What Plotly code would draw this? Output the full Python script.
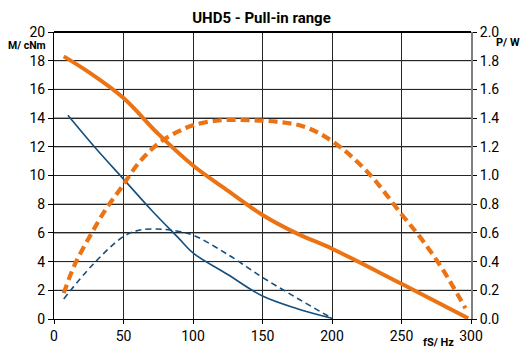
import plotly.graph_objects as go

# Drehmoment M (cNm) und Leistung P (W) über Schrittfrequenz fS (Hz)
f_m_orange = [7, 25, 50, 75, 100, 125, 150, 175, 200, 250, 298]
m_orange = [18.3, 17.2, 15.4, 12.9, 10.7, 8.95, 7.25, 5.95, 4.9, 2.45, 0.05]

f_p_orange = [7, 15, 26, 37, 48, 62, 76, 88, 100, 120, 140, 160, 180, 200, 225, 250, 265, 280, 296]
p_orange = [0.18, 0.38, 0.58, 0.76, 0.91, 1.10, 1.23, 1.30, 1.35, 1.385, 1.385, 1.375, 1.34,
            1.24, 1.03, 0.73, 0.55, 0.34, 0.075]

f_m_blue = [10, 30, 50, 70, 90, 100, 125, 150, 175, 200]
m_blue = [14.2, 11.9, 9.75, 7.6, 5.6, 4.6, 3.1, 1.6, 0.72, 0.05]

f_p_blue = [7, 28, 50, 62, 79, 90, 100, 125, 150, 175, 200]
p_blue = [0.14, 0.38, 0.575, 0.62, 0.625, 0.61, 0.585, 0.45, 0.29, 0.145, 0.005]

m_ticks = list(range(0, 21, 2))

ORANGE = "#EC7314"
BLUE = "#144F7E"
FONT = "Roboto"
GRID = "#262626"

fig = go.Figure()
fig.add_trace(go.Scatter(x=f_m_orange, y=m_orange, mode="lines",
                         line=dict(color=ORANGE, width=4, shape="spline")))
fig.add_trace(go.Scatter(x=f_p_orange, y=p_orange, mode="lines", yaxis="y2",
                         line=dict(color=ORANGE, width=4.2, shape="spline", dash="9px,5px")))
fig.add_trace(go.Scatter(x=f_m_blue, y=m_blue, mode="lines",
                         line=dict(color=BLUE, width=1.6, shape="spline")))
fig.add_trace(go.Scatter(x=f_p_blue, y=p_blue, mode="lines", yaxis="y2",
                         line=dict(color=BLUE, width=1.6, shape="spline", dash="6px,4px")))

fig.update_layout(
    width=523, height=356,
    margin=dict(l=54, r=52, t=32, b=33),
    paper_bgcolor="white", plot_bgcolor="white",
    showlegend=False,
    font=dict(family=FONT, size=14, color="black"),
    title=dict(text="<b>UHD5 - Pull-in range</b>", x=0.5, xanchor="center",
               y=0.949, yanchor="middle", font=dict(size=15, family=FONT)),
    xaxis=dict(range=[0, 300], dtick=50, showgrid=True, gridcolor=GRID, gridwidth=1,
               zeroline=False, showline=True, linecolor="black", linewidth=1,
               ticks="outside", ticklen=4, tickcolor="black"),
    yaxis=dict(range=[0, 20], tickvals=m_ticks, showgrid=True, gridcolor=GRID, gridwidth=1,
               zeroline=False, showline=True, linecolor="black", linewidth=1,
               ticks="outside", ticklen=5, tickcolor="black"),
    yaxis2=dict(range=[0, 2], dtick=0.2, tickformat=".1f", overlaying="y", side="right",
                showgrid=False, zeroline=False, showline=True, linecolor="#808080", linewidth=2,
                ticks="outside", ticklen=4, tickcolor="black"),
)

# waagerechte Gitterlinien (werden sonst von der zweiten Achse verdeckt)
for v in m_ticks[1:-1]:
    fig.add_hline(y=v, line=dict(color=GRID, width=1), layer="below")
# obere Rahmenlinie
fig.add_shape(type="line", xref="paper", yref="paper", x0=0, x1=1, y0=1, y1=1,
              line=dict(color="black", width=2), layer="above")

fig.add_annotation(text="<b>M/ cNm</b>", xref="paper", yref="paper", x=-0.014, y=0.953,
                   xanchor="right", yanchor="middle", showarrow=False, font=dict(size=10.5))
fig.add_annotation(text="<b>P/ W</b>", xref="paper", yref="paper", x=1.123, y=0.965,
                   xanchor="right", yanchor="middle", showarrow=False, font=dict(size=11))
fig.add_annotation(text="<b>fS/ Hz</b>", xref="paper", yref="paper", x=0.964, y=-0.082,
                   xanchor="right", yanchor="middle", showarrow=False, font=dict(size=11))

# Seitenrand des Browsers entfernen, damit die Grafik genau im Fenster sitzt
fig.write_html("out.html", config={"displayModeBar": False},
               post_script="document.body.style.margin='0';")
